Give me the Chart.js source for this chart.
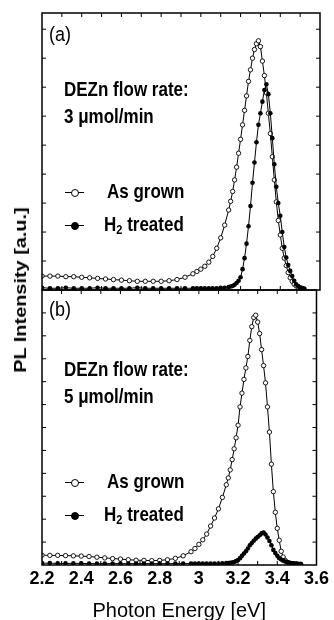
<!DOCTYPE html>
<html>
<head>
    <meta charset="utf-8"/>
    <title>PL spectra</title>
    <script src="https://cdn.jsdelivr.net/npm/chart.js@4.4.0/dist/chart.umd.min.js"></script>
    <style>
        html, body { margin: 0; padding: 0; background: #fff; overflow: hidden; }
        #fig { position: relative; width: 334px; height: 620px; overflow: hidden; font-family: "Liberation Sans", Arial, sans-serif; color: #000; }
        canvas { position: absolute; left: 0; }
        #topChart { top: 0; }
        #botChart { top: 285px; }
        .note { position: absolute; font-size: 17px; line-height: 17px; font-weight: bold; white-space: nowrap;
                transform: scaleY(1.15); transform-origin: left center; }
        .tag { position: absolute; font-size: 18px; line-height: 18px; white-space: nowrap;
               transform: scaleY(1.15); transform-origin: left center; }
        .note sub { font-size: 11px; vertical-align: -3px; line-height: 0; }
        .mk { position: absolute; left: 65px; width: 19px; height: 0; border-top: 1px solid #000; }
        .mk span { position: absolute; left: 6px; top: -4.5px; width: 6px; height: 6px; border: 1px solid #000; border-radius: 50%; }
        .mk.open span { background: #fff; }
        .mk.full span { background: #000; }
        #ytitle { position: absolute; left: 21px; top: 290px; font-size: 17px; font-weight: bold; white-space: nowrap;
                  transform: translate(-50%, -50%) rotate(-90deg) scale(1.17, 1); }
    </style>
</head>
<body>
<div id="fig">
    <canvas id="topChart" width="334" height="300"></canvas>
    <canvas id="botChart" width="334" height="336"></canvas>

    <div class="tag" style="left:49px; top:25px;">(a)</div>
    <div class="note" style="left:64px; top:81px;">DEZn flow rate:</div>
    <div class="note" style="left:64px; top:108px;">3 μmol/min</div>
    <div class="mk open" style="top:192px;"><span></span></div>
    <div class="note" style="left:107px; top:183px;">As grown</div>
    <div class="mk full" style="top:225px;"><span></span></div>
    <div class="note" style="left:104px; top:216px;">H<sub>2</sub> treated</div>

    <div class="tag" style="left:49px; top:300px;">(b)</div>
    <div class="note" style="left:64px; top:361px;">DEZn flow rate:</div>
    <div class="note" style="left:64px; top:388px;">5 μmol/min</div>
    <div class="mk open" style="top:482px;"><span></span></div>
    <div class="note" style="left:107px; top:473px;">As grown</div>
    <div class="mk full" style="top:515px;"><span></span></div>
    <div class="note" style="left:104px; top:506px;">H<sub>2</sub> treated</div>

    <div id="ytitle">PL Intensity [a.u.]</div>
</div>

<script>
    // photon energy grid [eV], shared by all four spectra
    const energy = [
        2.20, 2.24, 2.28, 2.32, 2.36, 2.40, 2.44, 2.48, 2.52, 2.56,
        2.60, 2.64, 2.68, 2.72, 2.76, 2.80, 2.84, 2.88, 2.92, 2.96,
        2.98, 3.00, 3.02, 3.04, 3.06, 3.08, 3.10, 3.12, 3.14,
        3.15, 3.16, 3.17, 3.18, 3.19, 3.20, 3.21, 3.22, 3.23, 3.24,
        3.25, 3.26, 3.27, 3.28, 3.29, 3.30, 3.31, 3.32, 3.33, 3.34,
        3.35, 3.36, 3.37, 3.38, 3.39, 3.40, 3.41, 3.42, 3.43, 3.44,
        3.45, 3.46, 3.47, 3.48, 3.49, 3.50, 3.51, 3.52
    ];

    // (a) DEZn 3 umol/min
    const grownA = [
        0.24, 0.24, 0.24, 0.23, 0.23, 0.22, 0.21, 0.20, 0.19, 0.18,
        0.17, 0.16, 0.15, 0.15, 0.15, 0.15, 0.16, 0.18, 0.22, 0.28,
        0.32, 0.36, 0.41, 0.48, 0.58, 0.72, 0.90, 1.12, 1.38,
        1.53, 1.70, 1.90, 2.12, 2.36, 2.60, 2.85, 3.10, 3.35, 3.60,
        3.80, 4.00, 4.15, 4.25, 4.30, 4.20, 3.95, 3.70, 3.40, 3.05,
        2.70, 2.30, 1.90, 1.52, 1.20, 0.95, 0.72, 0.55, 0.42, 0.30,
        0.21, 0.15, 0.10, 0.07, 0.05, 0.04, 0.03, 0.02
    ];
    const treatedA = [
        0.04, 0.03, 0.03, 0.04, 0.03, 0.03, 0.03, 0.04, 0.03, 0.03,
        0.03, 0.03, 0.04, 0.03, 0.03, 0.03, 0.03, 0.03, 0.03, 0.03,
        0.03, 0.03, 0.03, 0.03, 0.03, 0.03, 0.04, 0.04, 0.05,
        0.06, 0.07, 0.09, 0.12, 0.16, 0.22, 0.36, 0.55, 0.80, 1.10,
        1.45, 1.85, 2.20, 2.55, 2.85, 3.05, 3.25, 3.45, 3.55, 3.38,
        3.05, 2.62, 2.17, 1.78, 1.50, 1.28, 1.00, 0.74, 0.56, 0.43,
        0.33, 0.24, 0.16, 0.10, 0.07, 0.04, 0.03, 0.02
    ];

    // (b) DEZn 5 umol/min
    const grownB = [
        0.43, 0.42, 0.42, 0.41, 0.40, 0.39, 0.37, 0.34, 0.31, 0.28,
        0.26, 0.23, 0.21, 0.20, 0.19, 0.20, 0.23, 0.29, 0.40, 0.58,
        0.72, 0.90, 1.10, 1.35, 1.70, 2.05, 2.45, 2.95, 3.50,
        3.80, 4.15, 4.60, 5.07, 5.55, 6.10, 6.90, 7.50, 8.10, 8.60,
        9.10, 9.80, 10.4, 10.8, 10.9, 10.6, 10.1, 9.40, 8.70, 7.95,
        6.90, 5.80, 4.40, 3.20, 2.30, 1.60, 1.08, 0.60, 0.35, 0.20,
        0.12, 0.08, 0.06, 0.05, 0.04, 0.03, 0.03, 0.03
    ];
    const treatedB = [
        0.08, 0.08, 0.07, 0.07, 0.07, 0.07, 0.06, 0.06, 0.06, 0.06,
        0.06, 0.06, 0.06, 0.06, 0.06, 0.06, 0.06, 0.06, 0.06, 0.06,
        0.06, 0.06, 0.06, 0.06, 0.06, 0.06, 0.06, 0.07, 0.08,
        0.09, 0.10, 0.11, 0.13, 0.17, 0.22, 0.30, 0.40, 0.50, 0.60,
        0.72, 0.86, 0.96, 1.06, 1.15, 1.22, 1.30, 1.38, 1.42, 1.33,
        1.20, 1.05, 0.86, 0.66, 0.52, 0.40, 0.30, 0.24, 0.19, 0.15,
        0.13, 0.11, 0.09, 0.07, 0.06, 0.05, 0.04, 0.04
    ];

    const xTickLabels = ['2.2', '2.4', '2.6', '2.8', '3', '3.2', '3.4', '3.6'];

    Chart.defaults.font.family = '"Liberation Sans", Arial, sans-serif';
    Chart.defaults.color = '#000';

    function pairs(ys) {
        return energy.map((e, i) => ({x: e, y: ys[i]}));
    }

    function openSet(ys) {
        return {
            data: pairs(ys), showLine: true, borderColor: '#000', borderWidth: 1,
            pointRadius: 2.2, pointBackgroundColor: '#fff', pointBorderColor: '#000', pointBorderWidth: 0.9
        };
    }

    function fullSet(ys) {
        return {
            data: pairs(ys), showLine: true, borderColor: '#000', borderWidth: 1,
            pointRadius: 2.3, pointBackgroundColor: '#000', pointBorderColor: '#000', pointBorderWidth: 0
        };
    }

    // box around the panel with short inward ticks on all four sides
    const framePlugin = {
        id: 'frame',
        afterDatasetsDraw(chart) {
            const {ctx, chartArea: a, scales} = chart;
            const xs = scales.x, ys = scales.y;
            ctx.save();
            ctx.strokeStyle = '#000';
            ctx.lineWidth = 1;
            ctx.beginPath();
            for (let v = xs.min + 0.1; v < xs.max - 1e-6; v += 0.1) {
                const px = xs.getPixelForValue(v);
                ctx.moveTo(px, a.top); ctx.lineTo(px, a.top + 4);
                ctx.moveTo(px, a.bottom); ctx.lineTo(px, a.bottom - 4);
            }
            const step = ys.options.ticks.stepSize;
            for (let v = ys.min + step; v < ys.max - 1e-6; v += step) {
                const py = ys.getPixelForValue(v);
                ctx.moveTo(a.left, py); ctx.lineTo(a.left + 4, py);
                ctx.moveTo(a.right, py); ctx.lineTo(a.right - 4, py);
            }
            ctx.stroke();
            ctx.lineWidth = 1.5;
            ctx.strokeRect(a.left, a.top, a.right - a.left, a.bottom - a.top);
            ctx.restore();
        }
    };

    const topChart = new Chart(document.getElementById('topChart'), {
        type: 'scatter',
        data: {datasets: [fullSet(treatedA), openSet(grownA)]},
        options: {
            responsive: false,
            animation: false,
            layout: {padding: {left: 42, right: 14, top: 13, bottom: 10}},
            plugins: {legend: {display: false}, tooltip: {enabled: false}},
            scales: {
                x: {type: 'linear', min: 2.2, max: 3.6, display: false},
                y: {type: 'linear', min: 0, max: 4.78, display: false, ticks: {stepSize: 0.5}}
            }
        },
        plugins: [framePlugin]
    });

    const botChart = new Chart(document.getElementById('botChart'), {
        type: 'scatter',
        data: {datasets: [fullSet(treatedB), openSet(grownB)]},
        options: {
            responsive: false,
            animation: false,
            layout: {padding: {left: 42, right: 14, top: 5, bottom: 0}},
            plugins: {legend: {display: false}, tooltip: {enabled: false}},
            scales: {
                x: {
                    type: 'linear', min: 2.2, max: 3.6,
                    grid: {display: false, drawTicks: false},
                    border: {display: false},
                    ticks: {
                        stepSize: 0.2, autoSkip: false, maxRotation: 0, padding: 5,
                        font: {size: 18, weight: 'bold', lineHeight: 1},
                        callback: (value, index) => xTickLabels[index]
                    },
                    title: {
                        display: true, text: 'Photon Energy [eV]',
                        font: {size: 20, lineHeight: 1}, padding: {top: 8, bottom: 0}
                    }
                },
                y: {type: 'linear', min: 0, max: 12, display: false, ticks: {stepSize: 1}}
            }
        },
        plugins: [framePlugin]
    });
</script>
</body>
</html>
